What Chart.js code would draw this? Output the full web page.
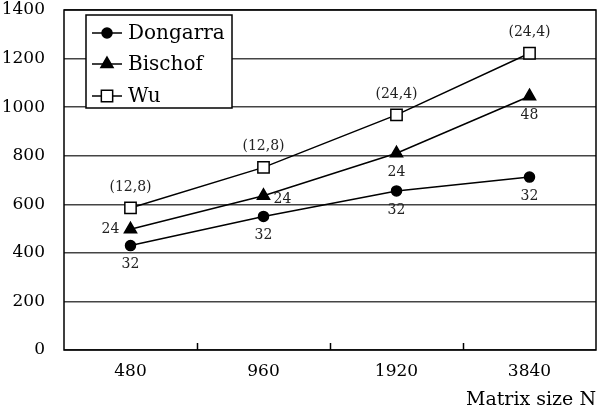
<!DOCTYPE html>
<html>
<head>
<meta charset="utf-8">
<script src="https://cdn.jsdelivr.net/npm/chart.js@4"></script>
<style>
html, body { margin: 0; padding: 0; background: #fff; }
</style>
</head>
<body>
<canvas id="grafica" width="597" height="414"></canvas>
<script>
// datos
const tamanos = ['480', '960', '1920', '3840'];
const dongarra = [430, 550, 655, 712];
const bischof = [497, 635, 810, 1045];
const wu = [585, 752, 968, 1222];
const dongarraEtiquetas = ['32', '32', '32', '32'];
const bischofEtiquetas = ['24', '24', '24', '48'];
const wuEtiquetas = ['(12,8)', '(12,8)', '(24,4)', '(24,4)'];
const yMin = 0, yMax = 1400, yPaso = 200;

// donde va cada etiqueta respecto al punto
const dongarraLugar = ['below', 'below', 'below', 'below'];
const bischofLugar = ['left', 'right', 'below', 'below'];
const wuLugar = ['above', 'above', 'above', 'above'];

const serif = '"DejaVu Serif", serif';

const marcoPlugin = {
    id: 'marco',
    afterDraw(chart) {
        const ctx = chart.ctx;
        const a = chart.chartArea;
        const x = chart.scales.x;
        ctx.save();
        ctx.strokeStyle = '#000';
        ctx.lineWidth = 1.5;
        ctx.strokeRect(a.left, a.top, a.right - a.left, a.bottom - a.top);
        // marcas entre categorias
        for (let i = 1; i < tamanos.length; i++) {
            const px = Math.round((x.getPixelForValue(i - 1) + x.getPixelForValue(i)) / 2) + 0.5;
            ctx.beginPath();
            ctx.moveTo(px, a.bottom);
            ctx.lineTo(px, a.bottom - 7);
            ctx.stroke();
        }
        ctx.restore();
    }
};

const etiquetasPlugin = {
    id: 'etiquetas',
    afterDatasetsDraw(chart) {
        const ctx = chart.ctx;
        const textos = [dongarraEtiquetas, bischofEtiquetas, wuEtiquetas];
        const lugares = [dongarraLugar, bischofLugar, wuLugar];
        ctx.save();
        ctx.font = '14px ' + serif;
        ctx.fillStyle = '#222';
        ctx.textAlign = 'center';
        ctx.textBaseline = 'middle';
        chart.data.datasets.forEach((ds, i) => {
            const meta = chart.getDatasetMeta(i);
            meta.data.forEach((p, j) => {
                let dx = 0, dy = 0;
                const l = lugares[i][j];
                if (l === 'below') dy = 19;
                if (l === 'above') dy = -21;
                if (l === 'left') dx = -20;
                if (l === 'right') { dx = 19; dy = 4; }
                ctx.fillText(textos[i][j], p.x + dx, p.y + dy);
            });
        });
        ctx.restore();
    }
};

const leyendaPlugin = {
    id: 'leyenda',
    afterDraw(chart) {
        const ctx = chart.ctx;
        ctx.save();
        ctx.fillStyle = '#fff';
        ctx.fillRect(86, 15, 146, 93);
        ctx.strokeStyle = '#000';
        ctx.lineWidth = 1.5;
        ctx.strokeRect(86, 15, 146, 93);
        const ys = [33, 64, 96];
        chart.data.datasets.forEach((ds, i) => {
            const y = ys[i];
            ctx.strokeStyle = '#000';
            ctx.lineWidth = 1.5;
            ctx.beginPath();
            ctx.moveTo(92, y);
            ctx.lineTo(122, y);
            ctx.stroke();
            ctx.fillStyle = ds.pointBackgroundColor;
            ctx.strokeStyle = '#000';
            Chart.helpers.drawPoint(ctx, {
                pointStyle: ds.pointStyle,
                radius: ds.pointRadius,
                borderWidth: 1.5,
                rotation: 0
            }, 107, y);
            ctx.fillStyle = '#000';
            ctx.font = '20px ' + serif;
            ctx.textAlign = 'left';
            ctx.textBaseline = 'middle';
            ctx.fillText(ds.label, 128, y + 1);
        });
        ctx.restore();
    }
};

new Chart(document.getElementById('grafica'), {
    type: 'line',
    data: {
        labels: tamanos,
        datasets: [{
            label: 'Dongarra',
            data: dongarra,
            borderColor: '#000',
            borderWidth: 1.5,
            pointStyle: 'circle',
            pointRadius: 5,
            pointBackgroundColor: '#000',
            pointBorderColor: '#000'
        }, {
            label: 'Bischof',
            data: bischof,
            borderColor: '#000',
            borderWidth: 1.5,
            pointStyle: 'triangle',
            pointRadius: 7,
            pointBackgroundColor: '#000',
            pointBorderColor: '#000'
        }, {
            label: 'Wu',
            data: wu,
            borderColor: '#000',
            borderWidth: 1.5,
            pointStyle: 'rect',
            pointRadius: 8,
            pointBackgroundColor: '#fff',
            pointBorderColor: '#000',
            pointBorderWidth: 1.5
        }]
    },
    options: {
        responsive: false,
        animation: false,
        layout: {
            autoPadding: false,
            padding: { top: 10, right: 1, left: 0, bottom: 0 }
        },
        plugins: {
            legend: { display: false },
            tooltip: { enabled: false }
        },
        scales: {
            x: {
                offset: true,
                grid: { display: false },
                border: { display: false },
                ticks: {
                    color: '#000',
                    padding: 3,
                    font: { family: serif, size: 17 }
                },
                title: {
                    display: true,
                    text: 'Matrix size N',
                    align: 'end',
                    color: '#000',
                    padding: { top: 0, bottom: 3 },
                    font: { family: serif, size: 19 }
                },
                afterFit: s => {
                    s.height = 64;
                    s.paddingLeft = 0;
                    s.paddingRight = 0;
                }
            },
            y: {
                min: yMin,
                max: yMax,
                ticks: {
                    stepSize: yPaso,
                    color: '#000',
                    padding: 19,
                    font: { family: serif, size: 17 },
                    callback: v => String(v)
                },
                grid: {
                    color: '#444',
                    lineWidth: 1.5,
                    drawTicks: false
                },
                border: { display: false },
                afterFit: s => {
                    s.width = 64;
                    s.paddingTop = 0;
                    s.paddingBottom = 0;
                }
            }
        }
    },
    plugins: [marcoPlugin, etiquetasPlugin, leyendaPlugin]
});
</script>
</body>
</html>
